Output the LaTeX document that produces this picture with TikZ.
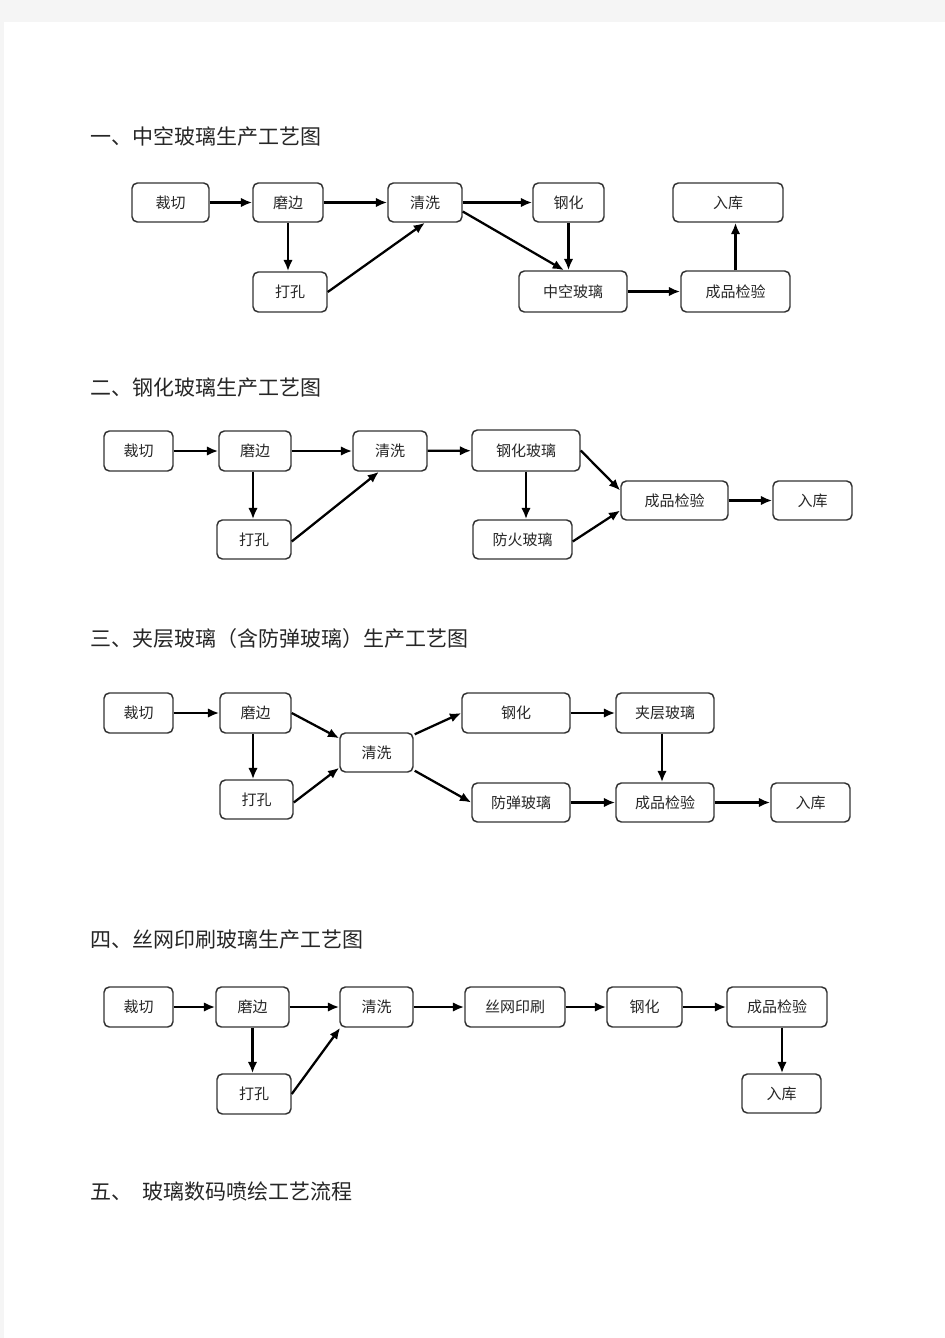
\documentclass[tikz,border=0pt]{standalone}
\usepackage{fontspec}
\newfontfamily\cjk{Noto Sans CJK SC}
\usetikzlibrary{arrows.meta,calc}
\tikzset{
  box/.style={draw=black!80, line width=1.1pt, rounded corners=4pt, fill=white, inner sep=0pt,
    font=\cjk\fontsize{11.25pt}{13pt}\selectfont, text=black!85},
  arr/.style={line width=1.7pt, -{Latex[length=8.5pt,width=7pt]}},
  ttl/.style={anchor=west, inner sep=0pt, font=\cjk\fontsize{15.75pt}{18pt}\selectfont, text=black!85}
}
\begin{document}
\begin{tikzpicture}[x=0.75pt,y=-0.75pt]
\useasboundingbox (0,0) rectangle (945,1338);
\fill[black!4] (0,0) rectangle (945,1338);
\fill[white] (4,22) rectangle (945,1338);

% titles
\node[ttl] (t1) at (90,137) {一、中空玻璃生产工艺图};
\node[ttl] (t2) at (90,388) {二、钢化玻璃生产工艺图};
\node[ttl] (t3) at (90,639) {三、夹层玻璃（含防弹玻璃）生产工艺图};
\node[ttl] (t4) at (90,940) {四、丝网印刷玻璃生产工艺图};
\node[ttl] (t5) at (90,1192) {五、\hspace{0.5em}玻璃数码喷绘工艺流程};

% diagram 1
\node[box, minimum width=57.75pt, minimum height=29.25pt] (a1) at (170.5,202.5) {裁切};
\node[box, minimum width=52.5pt, minimum height=29.25pt] (b1) at (288,202.5) {磨边};
\node[box, minimum width=55.5pt, minimum height=29.25pt] (c1) at (425,202.5) {清洗};
\node[box, minimum width=55.5pt, minimum height=30pt] (d1) at (290,292) {打孔};
\node[box, minimum width=53.25pt, minimum height=29.25pt] (e1) at (568.5,202.5) {钢化};
\node[box, minimum width=82.5pt, minimum height=29.25pt] (f1) at (728,202.5) {入库};
\node[box, minimum width=81pt, minimum height=30.75pt] (g1) at (573,291.5) {中空玻璃};
\node[box, minimum width=81.75pt, minimum height=30.75pt] (h1) at (735.5,291.5) {成品检验};
\draw[arr] (a1) -- (b1);
\draw[arr] (b1) -- (c1);
\draw[arr] (c1) -- (e1);
\draw[arr] (b1.south) -- (b1.south |- d1.north);
\draw[arr] (d1.east) -- (c1.south);
\coordinate (c1s) at ($(c1.east)+(0,9)$);
\coordinate (g1n) at ($(g1.north)+(-9,0)$);
\draw[arr] (c1s) -- (g1n);
\draw[arr] (e1.south) -- (e1.south |- g1.north);
\draw[arr] (g1) -- (h1);
\draw[arr] (h1.north) -- (h1.north |- f1.south);

% diagram 2
\node[box, minimum width=51.75pt, minimum height=30pt] (a2) at (138.5,451) {裁切};
\node[box, minimum width=54pt, minimum height=30pt] (b2) at (255,451) {磨边};
\node[box, minimum width=55.5pt, minimum height=30pt] (c2) at (390,451) {清洗};
\node[box, minimum width=55.5pt, minimum height=29.25pt] (d2) at (254,539.5) {打孔};
\node[box, minimum width=81pt, minimum height=30.75pt] (e2) at (526,450.5) {钢化玻璃};
\node[box, minimum width=74.25pt, minimum height=29.25pt] (f2) at (522.5,539.5) {防火玻璃};
\node[box, minimum width=80.25pt, minimum height=29.25pt] (g2) at (674.5,500.5) {成品检验};
\node[box, minimum width=59.25pt, minimum height=29.25pt] (h2) at (812.5,500.5) {入库};
\coordinate (b2s) at ($(b2.south)+(-2,0)$);
\coordinate (d2e) at ($(d2.east)+(0,2)$);
\coordinate (c2s) at ($(c2.south)+(-11,0)$);
\coordinate (g2a) at ($(g2.west)+(0,-10)$);
\coordinate (g2b) at ($(g2.west)+(0,10)$);
\coordinate (f2e) at ($(f2.east)+(0,2)$);
\draw[arr] (a2) -- (b2);
\draw[arr] (b2) -- (c2);
\draw[arr] (c2) -- (e2);
\draw[arr] (b2s) -- (b2s |- d2.north);
\draw[arr] (d2e) -- (c2s);
\draw[arr] (e2.south) -- (e2.south |- f2.north);
\draw[arr] (e2.east) -- (g2a);
\draw[arr] (f2e) -- (g2b);
\draw[arr] (g2) -- (h2);

% diagram 3
\node[box, minimum width=51.75pt, minimum height=30pt] (a3) at (138.5,713) {裁切};
\node[box, minimum width=53.25pt, minimum height=30pt] (b3) at (255.5,713) {磨边};
\node[box, minimum width=54.75pt, minimum height=29.25pt] (c3) at (376.5,752.5) {清洗};
\node[box, minimum width=54.75pt, minimum height=29.25pt] (d3) at (256.5,799.5) {打孔};
\node[box, minimum width=81pt, minimum height=30pt] (e3) at (516,713) {钢化};
\node[box, minimum width=73.5pt, minimum height=30pt] (f3) at (665,713) {夹层玻璃};
\node[box, minimum width=73.5pt, minimum height=29.25pt] (g3) at (521,802.5) {防弹玻璃};
\node[box, minimum width=73.5pt, minimum height=29.25pt] (h3) at (665,802.5) {成品检验};
\node[box, minimum width=59.25pt, minimum height=29.25pt] (i3) at (810.5,802.5) {入库};
\coordinate (c3a) at ($(c3.north west)+(0,6)$);
\coordinate (b3s) at ($(b3.south)+(-2.5,0)$);
\coordinate (d3e) at ($(d3.east)+(0,3)$);
\coordinate (c3b) at ($(c3.south west)+(0,-5)$);
\coordinate (c3c) at ($(c3.north east)+(1,2)$);
\coordinate (c3d) at ($(c3.south east)+(1,-2)$);
\coordinate (f3s) at ($(f3.south)+(-3,0)$);
\draw[arr] (a3) -- (b3);
\draw[arr] (b3.east) -- (c3a);
\draw[arr] (b3s) -- (b3s |- d3.north);
\draw[arr] (d3e) -- (c3b);
\draw[arr] (c3c) -- (e3.west);
\draw[arr] (c3d) -- (g3.west);
\draw[arr] (e3) -- (f3);
\draw[arr] (f3s) -- (f3s |- h3.north);
\draw[arr] (g3) -- (h3);
\draw[arr] (h3) -- (i3);

% diagram 4
\node[box, minimum width=51.75pt, minimum height=30pt] (a4) at (138.5,1007) {裁切};
\node[box, minimum width=54.75pt, minimum height=30pt] (b4) at (252.5,1007) {磨边};
\node[box, minimum width=54.75pt, minimum height=30pt] (c4) at (376.5,1007) {清洗};
\node[box, minimum width=55.5pt, minimum height=30pt] (d4) at (254,1094) {打孔};
\node[box, minimum width=75pt, minimum height=30pt] (e4) at (515,1007) {丝网印刷};
\node[box, minimum width=56.25pt, minimum height=30pt] (f4) at (644.5,1007) {钢化};
\node[box, minimum width=75pt, minimum height=30pt] (g4) at (777,1007) {成品检验};
\node[box, minimum width=59.25pt, minimum height=29.25pt] (h4) at (781.5,1093.5) {入库};
\coordinate (c4w) at ($(c4.south west)+(1,0)$);
\coordinate (g4s) at ($(g4.south)+(5,0)$);
\draw[arr] (a4) -- (b4);
\draw[arr] (b4) -- (c4);
\draw[arr] (c4) -- (e4);
\draw[arr] (e4) -- (f4);
\draw[arr] (f4) -- (g4);
\draw[arr] (b4.south) -- (b4.south |- d4.north);
\draw[arr] (d4.east) -- (c4w);
\draw[arr] (g4s) -- (g4s |- h4.north);
\end{tikzpicture}
\end{document}
